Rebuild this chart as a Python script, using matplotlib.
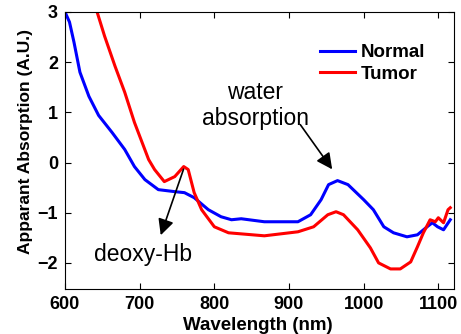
import numpy as np
import matplotlib
matplotlib.use("Agg")
import matplotlib.pyplot as plt

plt.rcParams['font.family'] = ['Liberation Sans', 'DejaVu Sans']

# Normal tissue spectrum (wavelength nm, absorption A.U.)
normal_wl = [600, 606, 612, 620, 632, 645, 663, 680, 693, 707, 725, 747, 760, 773, 792,
             809, 823, 836, 867, 912, 929, 943, 953, 965, 979, 1000, 1013, 1027,
             1040, 1058, 1072, 1085, 1092, 1099, 1107, 1116]
normal_abs = [3.0, 2.8, 2.4, 1.8, 1.32, 0.94, 0.6, 0.26, -0.08, -0.34, -0.54, -0.58, -0.6,
              -0.7, -0.94, -1.08, -1.14, -1.12, -1.18, -1.18, -1.04, -0.74, -0.44,
              -0.36, -0.44, -0.74, -0.94, -1.28, -1.4, -1.48, -1.44, -1.28, -1.2,
              -1.28, -1.34, -1.14]

# Tumor tissue spectrum
tumor_wl = [643, 653, 667, 680, 693, 712, 720, 733, 747, 759, 765, 773, 783, 800,
            819, 867, 912, 933, 952, 963, 973, 992, 1009, 1020, 1036, 1049, 1063,
            1072, 1080, 1089, 1096, 1100, 1107, 1113, 1116]
tumor_abs = [3.0, 2.52, 1.92, 1.4, 0.8, 0.06, -0.14, -0.38, -0.28, -0.08, -0.14, -0.6,
             -0.94, -1.28, -1.4, -1.46, -1.38, -1.28, -1.04, -0.98, -1.04, -1.34,
             -1.7, -2.0, -2.12, -2.12, -1.98, -1.68, -1.4, -1.14, -1.18, -1.1, -1.2,
             -0.94, -0.9]

fig = plt.figure(figsize=(4.61, 3.34), dpi=100)
ax = fig.add_axes([65 / 461, 45 / 334, 389 / 461, 277 / 334])

ax.plot(normal_wl, normal_abs, color='#0000ff', linewidth=2.2, label='Normal')
ax.plot(tumor_wl, tumor_abs, color='#ff0000', linewidth=2.2, label='Tumor')

ax.set_xlim(600, 1121)
ax.set_ylim(-2.52, 3)
ax.set_xticks([600, 700, 800, 900, 1000, 1100])
ax.set_yticks([-2, -1, 0, 1, 2, 3])
ax.tick_params(direction='in', top=True, right=True, length=4, labelsize=13, pad=5)
for lab in ax.get_xticklabels() + ax.get_yticklabels():
    lab.set_fontweight('bold')

ax.set_xlabel('Wavelength (nm)', fontsize=13.5, fontweight='bold')
ax.set_ylabel('Apparant Absorption (A.U.)', fontsize=12.5, fontweight='bold')
ax.xaxis.set_label_coords(0.496, -0.1)
ax.yaxis.set_label_coords(-0.082, 0.532)

leg = ax.legend(loc='upper right', frameon=False, prop={'weight': 'bold', 'size': 13.5},
                handlelength=1.9, handletextpad=0.3, labelspacing=0.25,
                bbox_to_anchor=(0.97, 0.945))

# annotations
ax.annotate('', xy=(960, -0.18), xytext=(913, 0.8),
            arrowprops=dict(arrowstyle='-|>', color='black', lw=1.2, mutation_scale=24))
ax.text(855, 1.14, 'water\nabsorption', fontsize=16.5, ha='center', va='center',
        linespacing=1.15)
ax.annotate('', xy=(727, -1.5), xytext=(760, -0.08),
            arrowprops=dict(arrowstyle='-|>', color='black', lw=1.2, mutation_scale=24))
ax.text(704, -1.84, 'deoxy-Hb', fontsize=16.5, ha='center', va='center')

fig.savefig('out.png', dpi=100)
